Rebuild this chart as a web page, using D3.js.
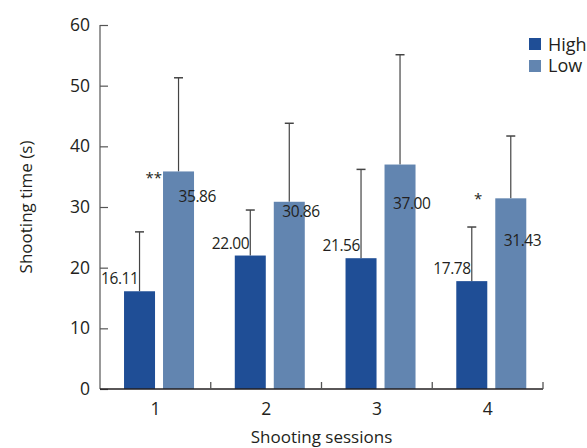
<!DOCTYPE html>
<html><head><meta charset="utf-8">
<script src="https://cdn.jsdelivr.net/npm/d3@7"></script>
<style>body{margin:0;background:#fff}svg{display:block}text{font-family:"Open Sans","Noto Sans",sans-serif;fill:#231f20}</style>
</head><body><svg id="c" width="587" height="448"></svg>
<script>
const categories = ["1","2","3","4"];
const seriesNames = ["High","Low"];
const highMeans = [16.11, 22.00, 21.56, 17.78];
const lowMeans = [35.86, 30.86, 37.00, 31.43];
const highErrTop = [25.9, 29.5, 36.2, 26.7];
const lowErrTop = [51.3, 43.8, 55.1, 41.7];
const highLabels = ["16.11","22.00","21.56","17.78"];
const lowLabels = ["35.86","30.86","37.00","31.43"];
const significance = ["**","","","*"];
const yTicks = [0,10,20,30,40,50,60];

// layout nudges for labels (pixels)
const lowLabelDy = [31, 15, 44, 48];
const lowLabelDx = [0, -7, -7, -7];
const sigDx = [-1, 0, 0, -13];
const sigDy = [12, 0, 0, 6];

const colors = {High:"#1f4e96", Low:"#6285b0"};
const svg = d3.select("#c");
const L = 100, R = 543, T = 25, B = 389;
const y = d3.scaleLinear().domain([0,60]).range([B,T]);
const x0 = d3.scaleBand().domain(categories).range([L,R]).padding(0);
const bw = x0.bandwidth();
const x1 = d3.scaleBand().domain(seriesNames).range([bw*0.217, bw*0.849]).paddingInner(0.205);

const rows = categories.map((c,i)=>({c,i,
  bars:[{s:"High",v:highMeans[i],e:highErrTop[i],lab:highLabels[i]},
        {s:"Low",v:lowMeans[i],e:lowErrTop[i],lab:lowLabels[i]}]}));

// y axis
const yAxis = d3.axisLeft(y).tickValues(yTicks).tickSize(-8).tickPadding(10).tickFormat(d3.format("d"));
const gy = svg.append("g").attr("transform",`translate(${L},0)`).call(yAxis);
gy.select(".domain").attr("stroke","#555").attr("stroke-width",1.2).attr("d",`M0,${T}V${B}`);
gy.selectAll(".tick line").attr("stroke","#555").attr("stroke-width",1.2);
gy.selectAll(".tick text").attr("font-size",17.5).attr("fill","#231f20").attr("font-family","Open Sans");

// bars
const g = svg.append("g");
rows.forEach(r=>{
  const gx = x0(r.c);
  r.bars.forEach(b=>{
    const bx = gx + x1(b.s), w = x1.bandwidth(), cx = bx + w/2;
    g.append("line").attr("x1",cx).attr("x2",cx).attr("y1",y(b.v)).attr("y2",y(b.e)).attr("stroke","#444").attr("stroke-width",1.2);
    g.append("line").attr("x1",cx-4.5).attr("x2",cx+4.5).attr("y1",y(b.e)).attr("y2",y(b.e)).attr("stroke","#444").attr("stroke-width",1.5);
    g.append("rect").attr("x",bx).attr("y",y(b.v)).attr("width",w).attr("height",y(0)-y(b.v)).attr("fill",colors[b.s]);
  });
});
// labels
rows.forEach(r=>{
  const gx = x0(r.c), w = x1.bandwidth();
  const hcx = gx + x1("High") + w/2, lcx = gx + x1("Low") + w/2;
  const hb = r.bars[0], lb = r.bars[1];
  svg.append("text").attr("x",hcx-1).attr("y",y(hb.v)-7).attr("text-anchor","end").attr("font-size",15.5).attr("letter-spacing",-0.4).text(hb.lab);
  svg.append("text").attr("x",lcx+lowLabelDx[r.i]).attr("y",y(lb.v)+lowLabelDy[r.i]).attr("font-size",15.5).attr("letter-spacing",-0.4).text(lb.lab);
  if (significance[r.i]) {
    svg.append("text").attr("x",gx + x1("Low") + sigDx[r.i]).attr("y",y(lb.v)+sigDy[r.i]).attr("text-anchor","end").attr("font-size",15).attr("fill","#333").text(significance[r.i]);
  }
});

// x axis
const xAxis = d3.axisBottom(x0).tickSize(0).tickPadding(14);
const gxa = svg.append("g").attr("transform",`translate(0,${B})`).call(xAxis);
gxa.select(".domain").attr("stroke","#231f20").attr("stroke-width",1.6).attr("d",`M${L},0H${R}`);
gxa.selectAll(".tick text").attr("font-size",17.5).attr("fill","#231f20").attr("font-family","Open Sans");
const bounds = categories.slice(1).map(c=>x0(c)).concat([R]);
gxa.selectAll("line.bt").data(bounds).enter().append("line").attr("class","bt")
  .attr("x1",d=>d).attr("x2",d=>d).attr("y1",0).attr("y2",-7).attr("stroke","#555").attr("stroke-width",1.3);

// axis titles
svg.append("text").attr("transform",`translate(32,${(T+B)/2}) rotate(-90)`).attr("text-anchor","middle").attr("font-size",17).text("Shooting time (s)");
svg.append("text").attr("x",(L+R)/2).attr("y",443).attr("text-anchor","middle").attr("font-size",17).text("Shooting sessions");

// legend
const lg = svg.append("g");
seriesNames.forEach((s,i)=>{
  lg.append("rect").attr("x",529).attr("y",38+i*22).attr("width",12).attr("height",12).attr("fill",colors[s]);
  lg.append("text").attr("x",548).attr("y",51+i*21).attr("font-size",18).text(s);
});
</script></body></html>
